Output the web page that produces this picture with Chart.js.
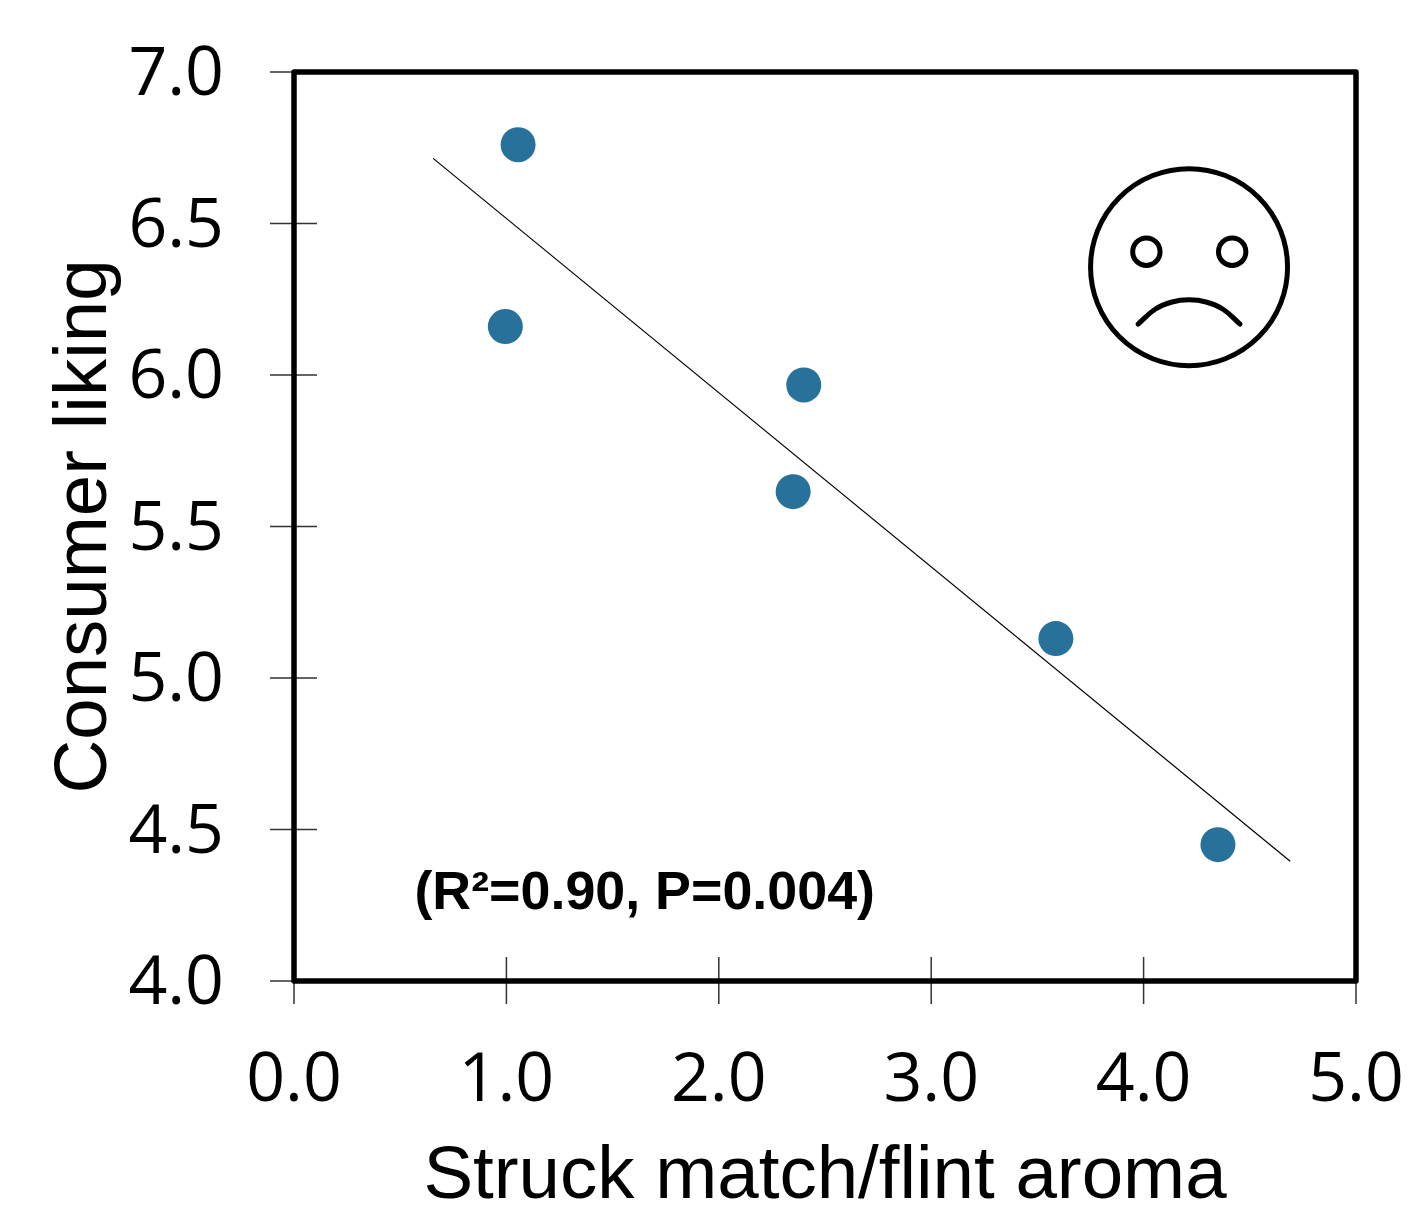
<!DOCTYPE html>
<html>
<head>
<meta charset="utf-8">
<title>Consumer liking</title>
<script src="https://cdn.jsdelivr.net/npm/chart.js@4"></script>
<style>
    html, body { margin: 0; padding: 0; background: #fff; }
    #wrap { position: relative; width: 1411px; height: 1206px; }
</style>
</head>
<body>
<div id="wrap"><canvas id="likingChart" width="1411" height="1206"></canvas></div>
<script>
const aromaValues = [1.055, 0.995, 2.40, 2.35, 3.587, 4.35];
const likingValues = [6.76, 6.16, 5.967, 5.615, 5.13, 4.45];
const trendX = [0.655, 4.69];
const trendY = [6.715, 4.395];
const xTicks = [0, 1, 2, 3, 4, 5];
const yTicks = [4, 4.5, 5, 5.5, 6, 6.5, 7];

// sad face, in data units
const faceHeadX = [4.214];
const faceHeadY = [6.356];
const faceEyesX = [4.013, 4.417];
const faceEyesY = [6.407, 6.407];
const faceMouthX = [3.974, 4.054, 4.134, 4.214, 4.294, 4.374, 4.454];
const faceMouthY = [6.168, 6.217, 6.241, 6.248, 6.241, 6.217, 6.168];

const statText = '(R²=0.90, P=0.004)';
const statX = 0.567;
const statY = 4.285;

function zip(xs, ys) {
    return xs.map((x, i) => ({ x: x, y: ys[i] }));
}

// ticks cross the frame, so they are drawn here and the library's own are off
const crossTicks = {
    id: 'crossTicks',
    afterDraw(chart) {
        const { ctx, scales, chartArea } = chart;
        ctx.save();
        ctx.strokeStyle = '#333';
        ctx.lineWidth = 1.5;
        ctx.beginPath();
        xTicks.forEach(v => {
            const px = scales.x.getPixelForValue(v);
            ctx.moveTo(px, chartArea.bottom - 24);
            ctx.lineTo(px, chartArea.bottom + 23);
        });
        yTicks.forEach(v => {
            const py = scales.y.getPixelForValue(v);
            ctx.moveTo(chartArea.left - 24, py);
            ctx.lineTo(chartArea.left + 23, py);
        });
        ctx.stroke();
        ctx.strokeStyle = '#000';
        ctx.lineWidth = 5.5;
        ctx.lineJoin = 'round';
        ctx.strokeRect(chartArea.left, chartArea.top, chartArea.right - chartArea.left, chartArea.bottom - chartArea.top);
        ctx.fillStyle = '#000';
        ctx.font = 'bold 53.8px "Liberation Sans"';
        ctx.textBaseline = 'middle';
        ctx.fillText(statText, scales.x.getPixelForValue(statX), scales.y.getPixelForValue(statY));
        ctx.restore();
    }
};

new Chart(document.getElementById('likingChart'), {
    type: 'scatter',
    data: {
        datasets: [
            {
                label: 'Trend',
                data: zip(trendX, trendY),
                showLine: true,
                borderColor: '#000',
                borderWidth: 1.2,
                pointRadius: 0
            },
            {
                label: 'Wines',
                data: zip(aromaValues, likingValues),
                backgroundColor: '#27719b',
                borderWidth: 0,
                pointRadius: 17.5
            },
            {
                label: 'Head',
                data: zip(faceHeadX, faceHeadY),
                backgroundColor: 'transparent',
                borderColor: '#000',
                borderWidth: 5,
                pointRadius: 98.5
            },
            {
                label: 'Eyes',
                data: zip(faceEyesX, faceEyesY),
                backgroundColor: 'transparent',
                borderColor: '#000',
                borderWidth: 5,
                pointRadius: 13.7
            },
            {
                label: 'Mouth',
                data: zip(faceMouthX, faceMouthY),
                showLine: true,
                tension: 0.4,
                borderColor: '#000',
                borderWidth: 5,
                borderCapStyle: 'round',
                pointRadius: 0
            }
        ]
    },
    plugins: [crossTicks],
    options: {
        responsive: false,
        animation: false,
        layout: { autoPadding: false, padding: { left: 39, top: 72, right: 55, bottom: 0 } },
        plugins: {
            legend: { display: false },
            tooltip: { enabled: false }
        },
        scales: {
            x: {
                type: 'linear',
                min: 0,
                max: 5,
                afterBuildTicks(axis) { axis.ticks = xTicks.map(v => ({ value: v })); },
                afterFit(axis) {
                    axis.height = 225;
                    axis.paddingLeft = 0;
                    axis.paddingRight = 0;
                },
                grid: { display: false },
                border: { display: false },
                ticks: {
                    color: '#000',
                    padding: 52,
                    maxRotation: 0,
                    font: { family: '"Open Sans"', size: 68 },
                    callback: v => v.toFixed(1)
                },
                title: {
                    display: true,
                    text: 'Struck match/flint aroma',
                    color: '#000',
                    font: { family: '"Liberation Sans"', size: 74.5 },
                    padding: { top: 0, bottom: -16 }
                }
            },
            y: {
                type: 'linear',
                min: 4,
                max: 7,
                afterBuildTicks(axis) { axis.ticks = yTicks.map(v => ({ value: v })); },
                afterFit(axis) {
                    axis.width = 255;
                    axis.paddingTop = 0;
                    axis.paddingBottom = 0;
                },
                grid: { display: false },
                border: { display: false },
                ticks: {
                    color: '#000',
                    padding: 62,
                    labelOffset: 4,
                    font: { family: '"Open Sans"', size: 68 },
                    callback: v => v.toFixed(1)
                },
                title: {
                    display: true,
                    text: 'Consumer liking',
                    color: '#000',
                    font: { family: '"Liberation Sans"', size: 74.5 },
                    padding: { top: 2, bottom: 0 }
                }
            }
        }
    }
});
</script>
</body>
</html>
